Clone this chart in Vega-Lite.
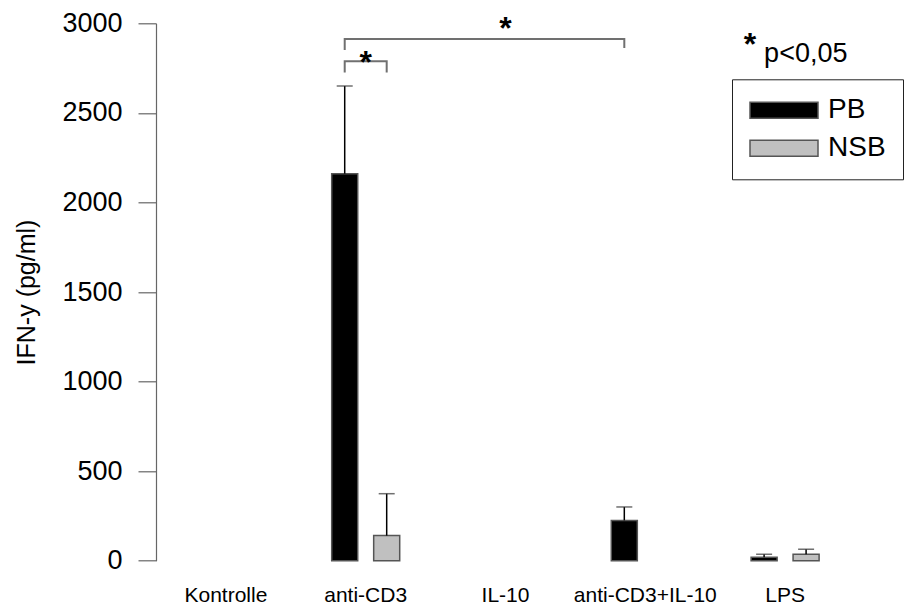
{
  "$schema": "https://vega.github.io/schema/vega-lite/v6.json",
  "width": 758,
  "height": 537.4,
  "autosize": {"type": "none"},
  "padding": {"left": 156, "top": 23.3, "right": 0, "bottom": 44.3},
  "background": "white",
  "config": {
    "view": {"stroke": null},
    "font": "Liberation Sans",
    "axis": {"grid": false}
  },
  "datasets": {
    "werte": [
      {"Gruppe": "Kontrolle", "Zellen": "PB", "IFN": 0},
      {"Gruppe": "Kontrolle", "Zellen": "NSB", "IFN": 0},
      {"Gruppe": "anti-CD3", "Zellen": "PB", "IFN": 2160, "Oben": 2650},
      {"Gruppe": "anti-CD3", "Zellen": "NSB", "IFN": 140, "Oben": 374},
      {"Gruppe": "IL-10", "Zellen": "PB", "IFN": 0},
      {"Gruppe": "IL-10", "Zellen": "NSB", "IFN": 0},
      {"Gruppe": "anti-CD3+IL-10", "Zellen": "PB", "IFN": 225, "Oben": 300},
      {"Gruppe": "anti-CD3+IL-10", "Zellen": "NSB", "IFN": 0},
      {"Gruppe": "LPS", "Zellen": "PB", "IFN": 19, "Oben": 36},
      {"Gruppe": "LPS", "Zellen": "NSB", "IFN": 36, "Oben": 64}
    ],
    "klammern": [
      {"id": "a", "k": 1, "Gruppe": "anti-CD3", "Zellen": "PB", "y": 2726},
      {"id": "a", "k": 2, "Gruppe": "anti-CD3", "Zellen": "PB", "y": 2788},
      {"id": "a", "k": 3, "Gruppe": "anti-CD3", "Zellen": "NSB", "y": 2788},
      {"id": "a", "k": 4, "Gruppe": "anti-CD3", "Zellen": "NSB", "y": 2726},
      {"id": "b", "k": 1, "Gruppe": "anti-CD3", "Zellen": "PB", "y": 2851},
      {"id": "b", "k": 2, "Gruppe": "anti-CD3", "Zellen": "PB", "y": 2912},
      {"id": "b", "k": 3, "Gruppe": "anti-CD3+IL-10", "Zellen": "PB", "y": 2912},
      {"id": "b", "k": 4, "Gruppe": "anti-CD3+IL-10", "Zellen": "PB", "y": 2862}
    ],
    "sterne": [
      {"Gruppe": "anti-CD3", "y": 2720, "t": "*"},
      {"Gruppe": "IL-10", "y": 2915, "t": "*"}
    ],
    "hinweis": [
      {"Gruppe": "LPS", "Zellen": "PB", "y": 2821, "t": "*", "art": "stern"},
      {"Gruppe": "LPS", "Zellen": "PB", "y": 2786, "t": "p<0,05", "art": "text"}
    ]
  },
  "layer": [
    {
      "data": {"name": "werte"},
      "transform": [{"filter": "datum.IFN > 0"}],
      "mark": {"type": "bar", "stroke": "#555", "strokeWidth": 1.5},
      "encoding": {
        "x": {
          "field": "Gruppe",
          "type": "nominal",
          "scale": {
            "domain": ["Kontrolle", "anti-CD3", "IL-10", "anti-CD3+IL-10", "LPS"],
            "range": [0, 699],
            "paddingInner": 0,
            "paddingOuter": 0
          },
          "axis": {
            "title": null,
            "domain": false,
            "ticks": false,
            "tickSize": 0,
            "labelAngle": 0,
            "labelFontSize": 21,
            "labelColor": "black",
            "labelPadding": 24
          }
        },
        "xOffset": {
          "field": "Zellen",
          "type": "nominal",
          "scale": {"domain": ["PB", "NSB"], "paddingInner": 0.38, "paddingOuter": 0.855}
        },
        "y": {
          "field": "IFN",
          "type": "quantitative",
          "scale": {"domain": [0, 3000], "nice": false},
          "axis": {
            "values": [0, 500, 1000, 1500, 2000, 2500, 3000],
            "format": "d",
            "title": "IFN-y (pg/ml)",
            "titleFontSize": 25,
            "titleFontWeight": "normal",
            "titleColor": "black",
            "titlePadding": 22,
            "labelFontSize": 27,
            "labelColor": "black",
            "labelPadding": 16,
            "tickSize": 18,
            "tickColor": "#666",
            "tickWidth": 1.2,
            "domainColor": "#666",
            "domainWidth": 1.2
          }
        },
        "color": {
          "field": "Zellen",
          "type": "nominal",
          "scale": {"domain": ["PB", "NSB"], "range": ["#000000", "#c0c0c0"]},
          "legend": {
            "title": null,
            "orient": "none",
            "legendX": 576,
            "legendY": 56,
            "padding": 17,
            "strokeColor": "#222",
            "fillColor": "white",
            "symbolType": "M-4.25,-1H4.25V1H-4.25Z",
            "symbolSize": 256,
            "symbolStrokeColor": "#555",
            "symbolStrokeWidth": 1.5,
            "symbolOffset": 21,
            "labelOffset": 30,
            "labelFontSize": 28,
            "labelColor": "black",
            "rowPadding": 10
          }
        }
      }
    },
    {
      "data": {"name": "werte"},
      "transform": [{"filter": "isValid(datum.Oben)"}],
      "mark": {"type": "rule", "color": "black", "strokeWidth": 1.5},
      "encoding": {
        "x": {"field": "Gruppe", "type": "nominal"},
        "xOffset": {"field": "Zellen", "type": "nominal"},
        "y": {"field": "IFN", "type": "quantitative"},
        "y2": {"field": "Oben"}
      }
    },
    {
      "data": {"name": "werte"},
      "transform": [{"filter": "isValid(datum.Oben)"}],
      "mark": {"type": "tick", "color": "#333", "size": 16, "thickness": 1.5},
      "encoding": {
        "x": {"field": "Gruppe", "type": "nominal"},
        "xOffset": {"field": "Zellen", "type": "nominal"},
        "y": {"field": "Oben", "type": "quantitative"}
      }
    },
    {
      "mark": {"type": "rule", "color": "black", "strokeWidth": 1.5},
      "encoding": {"y": {"datum": 0}}
    },
    {
      "data": {"name": "klammern"},
      "mark": {"type": "line", "color": "#707070", "strokeWidth": 2},
      "encoding": {
        "x": {"field": "Gruppe", "type": "nominal"},
        "xOffset": {"field": "Zellen", "type": "nominal"},
        "y": {"field": "y", "type": "quantitative"},
        "detail": {"field": "id"},
        "order": {"field": "k"}
      }
    },
    {
      "data": {"name": "sterne"},
      "mark": {"type": "text", "fontSize": 32, "fontWeight": "bold", "color": "black", "align": "center", "baseline": "alphabetic"},
      "encoding": {
        "x": {"field": "Gruppe", "type": "nominal"},
        "y": {"field": "y", "type": "quantitative"},
        "text": {"field": "t"}
      }
    },
    {
      "data": {"name": "hinweis"},
      "transform": [{"filter": "datum.art === 'stern'"}],
      "mark": {"type": "text", "fontSize": 32, "fontWeight": "bold", "color": "black", "align": "right", "baseline": "alphabetic", "dx": -8},
      "encoding": {
        "x": {"field": "Gruppe", "type": "nominal"},
        "xOffset": {"field": "Zellen", "type": "nominal"},
        "y": {"field": "y", "type": "quantitative"},
        "text": {"field": "t"}
      }
    },
    {
      "data": {"name": "hinweis"},
      "transform": [{"filter": "datum.art === 'text'"}],
      "mark": {"type": "text", "fontSize": 27, "color": "black", "align": "left", "baseline": "alphabetic"},
      "encoding": {
        "x": {"field": "Gruppe", "type": "nominal"},
        "xOffset": {"field": "Zellen", "type": "nominal"},
        "y": {"field": "y", "type": "quantitative"},
        "text": {"field": "t"}
      }
    }
  ]
}
